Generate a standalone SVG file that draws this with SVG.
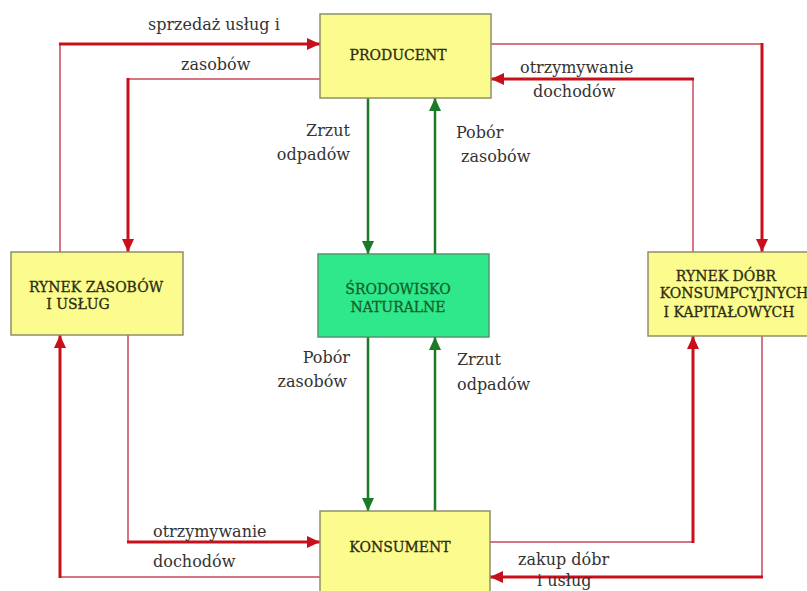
<svg xmlns="http://www.w3.org/2000/svg" width="807" height="591" viewBox="0 0 807 591">
<defs>
<marker id="ar" markerUnits="userSpaceOnUse" markerWidth="14" markerHeight="12" refX="13" refY="6" orient="auto"><path d="M0,0 L13,6 L0,12 Z" fill="#c8101c"/></marker>
<marker id="ag" markerUnits="userSpaceOnUse" markerWidth="14" markerHeight="12" refX="13" refY="6" orient="auto"><path d="M0,0 L13,6 L0,12 Z" fill="#1b7a26"/></marker>
<style>
.box{fill:#fbfb8e;stroke:#8f8f6a;stroke-width:1.5}
.env{fill:#2fe88c;stroke:#4c9a68;stroke-width:1.5}
.thick{fill:none;stroke:#c8101c;stroke-width:3}
.thin{fill:none;stroke:#c8485a;stroke-width:1.5}
.g{fill:none;stroke:#1b7a26;stroke-width:2.5}
.lbl{font-family:"DejaVu Serif","Liberation Serif",serif;font-size:16px;fill:#333}
.bt{font-family:"DejaVu Serif","Liberation Serif",serif;font-size:14px;fill:#2c2c10;text-anchor:middle;stroke:#2c2c10;stroke-width:0.3}
.gt{font-family:"DejaVu Serif","Liberation Serif",serif;font-size:14px;fill:#14602a;text-anchor:middle;stroke:#14602a;stroke-width:0.3}
</style>
</defs>
<rect width="807" height="591" fill="#fff"/>
<g id="connectors">
<polyline class="thin" points="60,252 60,44"/>
<line class="thick" x1="59" y1="44" x2="320" y2="44" marker-end="url(#ar)"/>
<polyline class="thin" points="320,79 128,79"/>
<line class="thick" x1="128" y1="78" x2="128" y2="252" marker-end="url(#ar)"/>
<polyline class="thin" points="320,577 60,577"/>
<line class="thick" x1="60" y1="578" x2="60" y2="335" marker-end="url(#ar)"/>
<polyline class="thin" points="128,335 128,542"/>
<line class="thick" x1="127" y1="542" x2="320" y2="542" marker-end="url(#ar)"/>
<polyline class="thin" points="491,44 762,44"/>
<line class="thick" x1="762" y1="43" x2="762" y2="252" marker-end="url(#ar)"/>
<polyline class="thin" points="693,252 693,79"/>
<line class="thick" x1="694" y1="79" x2="491" y2="79" marker-end="url(#ar)"/>
<polyline class="thin" points="490,542 693,542"/>
<line class="thick" x1="693" y1="543" x2="693" y2="336" marker-end="url(#ar)"/>
<polyline class="thin" points="762,336 762,577"/>
<line class="thick" x1="763" y1="577" x2="490" y2="577" marker-end="url(#ar)"/>
<line class="g" x1="368" y1="98" x2="368" y2="254" marker-end="url(#ag)"/>
<line class="g" x1="435" y1="254" x2="435" y2="98" marker-end="url(#ag)"/>
<line class="g" x1="368" y1="337" x2="368" y2="511" marker-end="url(#ag)"/>
<line class="g" x1="435" y1="511" x2="435" y2="337" marker-end="url(#ag)"/>
</g>
<g id="producent">
<rect class="box" x="320" y="14" width="171" height="84"/>
<text class="bt" x="398" y="60">PRODUCENT</text>
</g>
<g id="rynek-zasobow">
<rect class="box" x="11" y="252" width="172" height="83"/>
<text class="bt" x="96" y="292">RYNEK ZASOBÓW</text>
<text class="bt" x="78" y="309">I USŁUG</text>
</g>
<g id="srodowisko">
<rect class="env" x="318" y="254" width="171" height="83"/>
<text class="gt" x="398" y="294">ŚRODOWISKO</text>
<text class="gt" x="398" y="312">NATURALNE</text>
</g>
<g id="rynek-dobr">
<rect class="box" x="648" y="252" width="165" height="84"/>
<text class="bt" x="726" y="281">RYNEK DÓBR</text>
<text class="bt" x="734" y="298">KONSUMPCYJNYCH</text>
<text class="bt" x="729" y="317">I KAPITAŁOWYCH</text>
</g>
<g id="konsument">
<rect class="box" x="320" y="511" width="170" height="86"/>
<text class="bt" x="400" y="552">KONSUMENT</text>
</g>
<g id="labels">
<text class="lbl" x="148" y="30">sprzedaż usług i</text>
<text class="lbl" x="181" y="70">zasobów</text>
<text class="lbl" x="520" y="73">otrzymywanie</text>
<text class="lbl" x="533" y="97">dochodów</text>
<text class="lbl" x="350" y="136" text-anchor="end">Zrzut</text>
<text class="lbl" x="350" y="160" text-anchor="end">odpadów</text>
<text class="lbl" x="456" y="138">Pobór</text>
<text class="lbl" x="461" y="162">zasobów</text>
<text class="lbl" x="350" y="363" text-anchor="end">Pobór</text>
<text class="lbl" x="347" y="387" text-anchor="end">zasobów</text>
<text class="lbl" x="457" y="365">Zrzut</text>
<text class="lbl" x="457" y="390">odpadów</text>
<text class="lbl" x="153" y="537">otrzymywanie</text>
<text class="lbl" x="153" y="567">dochodów</text>
<text class="lbl" x="518" y="565">zakup dóbr</text>
<text class="lbl" x="537" y="586">i usług</text>
</g>
</svg>
